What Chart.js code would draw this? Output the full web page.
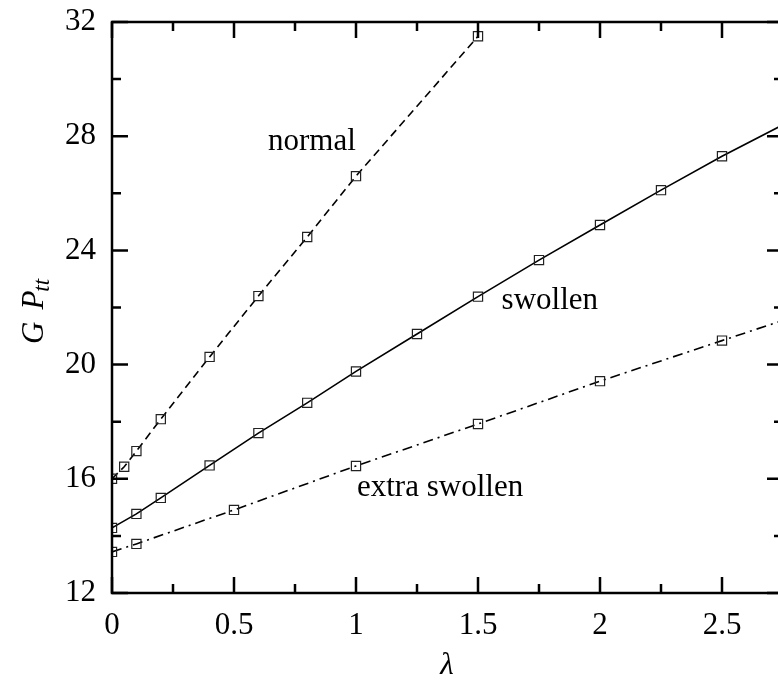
<!DOCTYPE html>
<html>
<head>
<meta charset="utf-8">
<script src="https://cdn.jsdelivr.net/npm/chart.js@4/dist/chart.umd.min.js"></script>
<style>
  html, body { margin: 0; padding: 0; background: #fff; overflow: hidden; }
  #wrap { width: 800px; height: 682px; }
</style>
</head>
<body>
<div id="wrap"><canvas id="c" width="800" height="682"></canvas></div>
<script>
// ---- data ----
const normalX = [0, 0.05, 0.1, 0.2, 0.4, 0.6, 0.8, 1.0, 1.5];
const normalY = [16.0, 16.42, 16.97, 18.09, 20.27, 22.4, 24.47, 26.6, 31.5];

const swollenX = [0, 0.1, 0.2, 0.4, 0.6, 0.8, 1.0, 1.25, 1.5, 1.75, 2.0, 2.25, 2.5, 2.75];
const swollenY = [14.28, 14.77, 15.33, 16.47, 17.6, 18.66, 19.76, 21.07, 22.38, 23.66, 24.89, 26.11, 27.3, 28.4];
const swollenMarked = [1,1,1,1,1,1,1,1,1,1,1,1,1,0];

const extraX = [0, 0.1, 0.5, 1.0, 1.5, 2.0, 2.5, 2.75];
const extraY = [13.44, 13.72, 14.91, 16.45, 17.92, 19.42, 20.84, 21.55];
const extraMarked = [1,1,1,1,1,1,1,0];

const xTicks = [0, 0.5, 1, 1.5, 2, 2.5];
const yTicks = [12, 16, 20, 24, 28, 32];

const seriesLabels = ["normal", "swollen", "extra swollen"];

// ---- helpers ----
const FONT = '"Liberation Serif", "DejaVu Serif", serif';
const FS = 31;
const MR = 6.5;
function pts(xs, ys) { return xs.map((x, i) => ({ x: x, y: ys[i] })); }
function radii(mask) { return mask.map(m => m ? MR : 0); }

const framePlugin = {
  id: 'frame',
  afterDraw(chart) {
    const ctx = chart.ctx;
    const xs = chart.scales.x, ys = chart.scales.y;
    const L = chart.chartArea.left, R = chart.chartArea.right;
    const T = chart.chartArea.top, B = chart.chartArea.bottom;
    ctx.save();
    ctx.strokeStyle = '#000';
    ctx.lineWidth = 2.5;
    ctx.strokeRect(L, T, R - L, B - T);
    ctx.beginPath();
    for (let v = 0; v <= xs.max + 1e-9; v += 0.25) {
      const px = xs.getPixelForValue(v);
      const major = Math.abs(v / 0.5 - Math.round(v / 0.5)) < 1e-6;
      const len = major ? 16 : 9;
      ctx.moveTo(px, B); ctx.lineTo(px, B - len);
      ctx.moveTo(px, T); ctx.lineTo(px, T + len);
    }
    for (let v = ys.min; v <= ys.max + 1e-9; v += 2) {
      const py = ys.getPixelForValue(v);
      const major = (v % 4) === 0;
      const len = major ? 16 : 9;
      ctx.moveTo(L, py); ctx.lineTo(L + len, py);
      ctx.moveTo(R, py); ctx.lineTo(R - len, py);
    }
    ctx.stroke();

    ctx.fillStyle = '#000';
    ctx.font = FS + 'px ' + FONT;
    ctx.textAlign = 'left';
    ctx.textBaseline = 'alphabetic';
    ctx.fillText(seriesLabels[0], 268, 150);
    ctx.textAlign = 'right';
    ctx.fillText(seriesLabels[1], 598, 309);
    ctx.textAlign = 'left';
    ctx.fillText(seriesLabels[2], 357, 496);

    ctx.font = 'italic ' + FS + 'px ' + FONT;
    ctx.textAlign = 'center';
    ctx.fillText('\u03bb', 447, 674);

    ctx.translate(43, 344);
    ctx.rotate(-Math.PI / 2);
    ctx.textAlign = 'left';
    ctx.font = 'italic ' + FS + 'px ' + FONT;
    ctx.fillText('G', 0, 0);
    let w = ctx.measureText('G').width + 12;
    ctx.fillText('P', w, 0);
    w += ctx.measureText('P').width - 1;
    ctx.font = 'italic 23px ' + FONT;
    ctx.fillText('tt', w, 6);
    ctx.restore();
  }
};

new Chart(document.getElementById('c'), {
  type: 'scatter',
  data: {
    datasets: [
      {
        label: seriesLabels[0],
        data: pts(normalX, normalY),
        showLine: true,
        borderColor: '#000',
        borderWidth: 1.6,
        borderDash: [8, 5],
        pointStyle: 'rect',
        pointRadius: MR,
        pointBorderWidth: 1.2,
        pointBorderColor: '#222',
        pointBackgroundColor: 'rgba(0,0,0,0)'
      },
      {
        label: seriesLabels[1],
        data: pts(swollenX, swollenY),
        showLine: true,
        borderColor: '#000',
        borderWidth: 1.6,
        pointStyle: 'rect',
        pointRadius: radii(swollenMarked),
        pointBorderWidth: 1.2,
        pointBorderColor: '#222',
        pointBackgroundColor: 'rgba(0,0,0,0)'
      },
      {
        label: seriesLabels[2],
        data: pts(extraX, extraY),
        showLine: true,
        borderColor: '#000',
        borderWidth: 1.6,
        borderDash: [10, 5, 2, 5],
        pointStyle: 'rect',
        pointRadius: radii(extraMarked),
        pointBorderWidth: 1.2,
        pointBorderColor: '#222',
        pointBackgroundColor: 'rgba(0,0,0,0)'
      }
    ]
  },
  options: {
    responsive: false,
    animation: false,
    layout: { padding: { top: 22, right: 17, left: 0, bottom: 0 } },
    plugins: { legend: { display: false }, tooltip: { enabled: false } },
    scales: {
      x: {
        type: 'linear',
        min: 0, max: 2.75,
        grid: { display: false, drawTicks: false },
        border: { display: false },
        afterBuildTicks: s => { s.ticks = xTicks.map(v => ({ value: v })); },
        afterFit: s => { s.height = 89; s.paddingLeft = 0; s.paddingRight = 0; },
        ticks: {
          color: '#000',
          padding: 14,
          font: { family: FONT, size: FS },
          callback: v => String(v)
        }
      },
      y: {
        type: 'linear',
        min: 12, max: 32,
        grid: { display: false, drawTicks: false },
        border: { display: false },
        afterBuildTicks: s => { s.ticks = yTicks.map(v => ({ value: v })); },
        afterFit: s => { s.width = 112; s.paddingTop = 0; s.paddingBottom = 0; },
        ticks: {
          color: '#000',
          padding: 16,
          font: { family: FONT, size: FS },
          callback: v => String(v)
        }
      }
    }
  },
  plugins: [framePlugin]
});
</script>
</body>
</html>
